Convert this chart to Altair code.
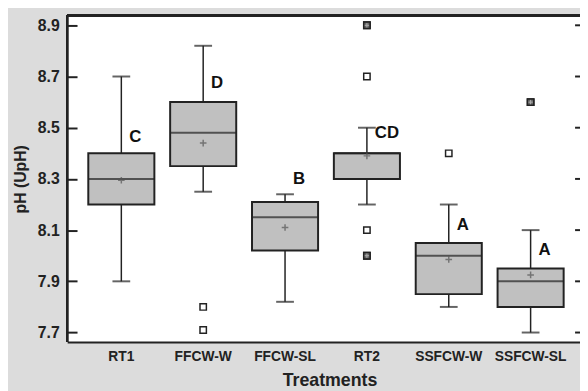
import altair as alt
import pandas as pd

# ---- data ----
treatments = ["RT1", "FFCW-W", "FFCW-SL", "RT2", "SSFCW-W", "SSFCW-SL"]
whisker_low = [7.90, 8.25, 7.82, 8.20, 7.80, 7.70]
q1 = [8.20, 8.35, 8.02, 8.30, 7.85, 7.80]
median = [8.30, 8.48, 8.15, 8.40, 8.00, 7.90]
q3 = [8.40, 8.60, 8.21, 8.40, 8.05, 7.95]
whisker_high = [8.70, 8.82, 8.24, 8.50, 8.20, 8.10]
mean = [8.295, 8.44, 8.11, 8.39, 7.985, 7.925]

letters = ["C", "D", "B", "CD", "A", "A"]
letter_y = [8.465, 8.674, 8.30, 8.481, 8.118, 8.022]

outlier_cat = ["FFCW-W", "FFCW-W", "RT2", "RT2", "RT2", "RT2", "SSFCW-W", "SSFCW-SL"]
outlier_val = [7.80, 7.71, 8.90, 8.70, 8.10, 8.00, 8.40, 8.60]
outlier_multi = [False, False, True, False, False, True, False, True]

y_ticks = [7.7, 7.9, 8.1, 8.3, 8.5, 8.7, 8.9]
y_domain = [7.663, 8.938]

box = pd.DataFrame({
    "t": treatments, "lo": whisker_low, "q1": q1, "med": median,
    "q3": q3, "hi": whisker_high, "mean": mean,
    "letter": letters, "ly": letter_y,
})
outl = pd.DataFrame({"t": outlier_cat, "v": outlier_val, "multi": outlier_multi})
ticks = pd.DataFrame({"v": y_ticks})

W, H = 520, 331
FONT = "Liberation Sans"
DARK = "#222222"

xscale = alt.Scale(domain=treatments, paddingInner=0, paddingOuter=0.1325, align=0.61)
yscale = alt.Scale(domain=y_domain, nice=False, zero=False)

x_enc = alt.X("t:N", scale=xscale, sort=treatments,
              axis=alt.Axis(title="Treatments", domain=True, domainColor=DARK, domainWidth=2,
                            ticks=False, labelAngle=0, labelFont=FONT, labelFontSize=14,
                            labelFontWeight="bold", labelColor=DARK, labelPadding=8,
                            titleFont=FONT, titleFontSize=18, titleFontWeight="bold",
                            titleColor=DARK, titlePadding=8, titleX=266))
x_plain = alt.X("t:N", scale=xscale, sort=treatments)

base = alt.Chart(box)

whisk = base.mark_rule(color=DARK, strokeWidth=1.5).encode(
    x=x_enc,
    y=alt.Y("lo:Q", scale=yscale,
            axis=alt.Axis(title="pH (UpH)", values=y_ticks, format=".1f", domain=False,
                          grid=False, tickSize=10, offset=-10, tickColor=DARK, tickWidth=2,
                          labelFont=FONT, labelFontSize=16, labelFontWeight="bold",
                          labelColor=DARK, labelPadding=8,
                          titleFont=FONT, titleFontSize=16, titleFontWeight="bold",
                          titleColor=DARK, titlePadding=9)),
    y2="hi:Q",
)
caps_lo = base.mark_tick(color=DARK, size=18, thickness=2).encode(x=x_plain, y=alt.Y("lo:Q", scale=yscale))
caps_hi = base.mark_tick(color=DARK, size=18, thickness=2).encode(x=x_plain, y=alt.Y("hi:Q", scale=yscale))
boxes = base.mark_bar(size=67, fill="#c0c0c0", stroke=DARK, strokeWidth=2).encode(
    x=x_plain, y=alt.Y("q1:Q", scale=yscale), y2="q3:Q")
med = base.mark_tick(color=DARK, size=67, thickness=2).encode(x=x_plain, y=alt.Y("med:Q", scale=yscale))
plus = "M-1,0L1,0M0,-1L0,1"
means = base.mark_point(shape=plus, size=45, stroke="#555555", strokeWidth=1.5, filled=False).encode(
    x=x_plain, y=alt.Y("mean:Q", scale=yscale))
lab = base.mark_text(align="left", baseline="middle", dx=8, font=FONT, fontSize=17,
                     fontWeight="bold", color="#111111").encode(
    x=x_plain, y=alt.Y("ly:Q", scale=yscale), text="letter:N")

ob = alt.Chart(outl)
out_sq = ob.mark_point(shape="square", size=42, fill="white", stroke=DARK, strokeWidth=1.5,
                       opacity=1, fillOpacity=1).encode(
    x=x_plain, y=alt.Y("v:Q", scale=yscale))
out_multi = ob.transform_filter("datum.multi").mark_point(
    shape="square", size=42, fill="#666666", stroke=DARK, strokeWidth=1.5, fillOpacity=1).encode(
    x=x_plain, y=alt.Y("v:Q", scale=yscale))
out_cross = ob.transform_filter("datum.multi").mark_point(
    shape=plus, size=20, stroke="#cccccc", strokeWidth=1, filled=False).encode(
    x=x_plain, y=alt.Y("v:Q", scale=yscale))

tb = alt.Chart(ticks)
right_ticks = tb.mark_rule(color=DARK, strokeWidth=2).encode(
    y=alt.Y("v:Q", scale=yscale), x=alt.value(W - 5), x2=alt.value(W))
left_border = tb.mark_rule(color=DARK, strokeWidth=2).encode(
    x=alt.value(0), y=alt.value(0), y2=alt.value(H))
top_border = tb.mark_rule(color=DARK, strokeWidth=2).encode(
    y=alt.value(0), x=alt.value(0), x2=alt.value(W))

chart = alt.layer(
    whisk, caps_lo, caps_hi, boxes, med, means, lab,
    out_sq, out_multi, out_cross, right_ticks, left_border, top_border,
).properties(
    width=W, height=H,
    autosize=alt.AutoSizeParams(type="none"),
    padding={"left": 60, "top": 5, "right": 0, "bottom": 47},
    background="#dcdcdc",
).configure_view(stroke=None, fill="white")

chart.save("out.html", embed_options={"renderer": "svg", "actions": False})
